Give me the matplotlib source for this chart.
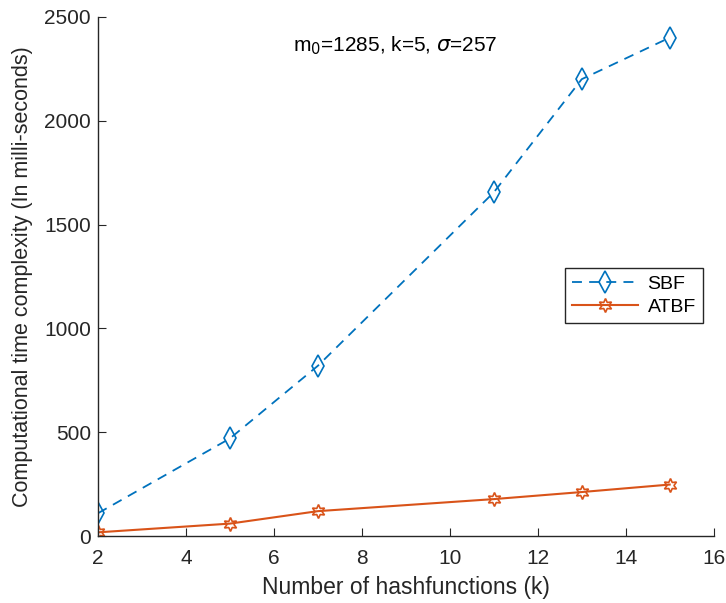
import matplotlib
matplotlib.use("Agg")
import matplotlib.pyplot as plt

plt.rcParams['font.family'] = ['Liberation Sans', 'DejaVu Sans']

k_values = [2, 5, 7, 11, 13, 15]
sbf = [110, 470, 820, 1655, 2200, 2400]
atbf = [18, 60, 120, 178, 212, 248]
xticks = [2, 4, 6, 8, 10, 12, 14, 16]
yticks = [0, 500, 1000, 1500, 2000, 2500]

c_blue = (0, 0.447, 0.741)
c_orange = (0.85, 0.325, 0.098)
axc = '#262626'

fig = plt.figure(figsize=(7.26, 6.03), dpi=100)
ax = fig.add_axes([0.135, 0.111, 0.848, 0.861])

ax.plot(k_values, sbf, linestyle='--', dashes=(5.5, 4), color=c_blue, marker='d', markersize=11,
        markerfacecolor='none', markeredgewidth=1.2, linewidth=1.3, label='SBF')
ax.plot(k_values, atbf, linestyle='-', color=c_orange, marker=(6, 1, 0), markersize=10,
        markerfacecolor='none', markeredgewidth=1.2, linewidth=1.5, label='ATBF')

ax.set_xlim(2, 16)
ax.set_ylim(0, 2500)
ax.set_xticks(xticks)
ax.set_yticks(yticks)
for s in ['top', 'right']:
    ax.spines[s].set_visible(False)
for s in ['left', 'bottom']:
    ax.spines[s].set_color(axc)
    ax.spines[s].set_linewidth(1.0)
ax.tick_params(direction='in', length=6, color=axc, labelcolor=axc, labelsize=15, pad=5)
ax.tick_params(axis='x', pad=9)

ax.set_xlabel('Number of hashfunctions (k)', fontsize=16.5, color=axc, labelpad=6)
ax.set_ylabel('Computational time complexity (In milli-seconds)', fontsize=15.5, color=axc, labelpad=8)

ax.text(8.77, 2362, r'm$_0$=1285, k=5, $\sigma$=257', ha='center', va='center',
        fontsize=15, color='black')

leg = ax.legend(loc='upper right', bbox_to_anchor=(0.982, 0.516), fontsize=14,
                fancybox=False, framealpha=1, edgecolor=axc, handlelength=3.4,
                borderaxespad=0, handletextpad=0.5, borderpad=0.35, labelspacing=0.3)
leg.get_frame().set_linewidth(1.0)

fig.savefig('out.png', dpi=100)
